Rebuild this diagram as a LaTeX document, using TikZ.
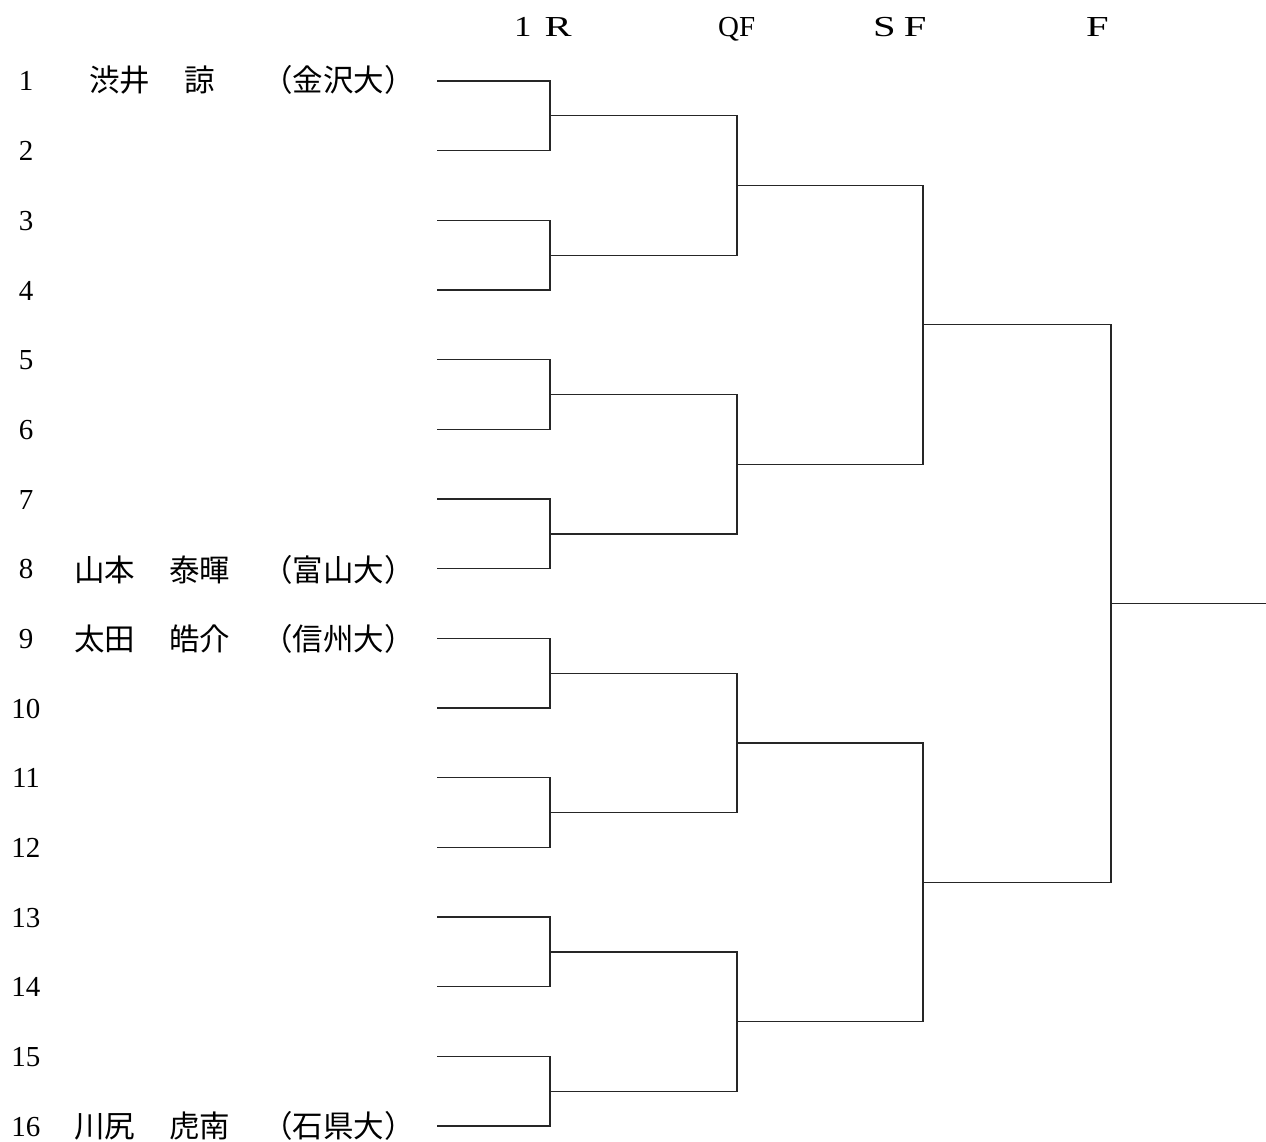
\documentclass[tikz,border=0pt]{standalone}
\usepackage{graphicx}
\usepackage{fontspec}
\setmainfont{Liberation Serif}
\newfontfamily\jp{Noto Sans CJK JP}
\newcommand{\widelet}[1]{\scalebox{1.4}[1]{#1}}
\begin{document}
\begin{tikzpicture}[x=1pt,y=-1pt,
  br/.style={line width=1.3pt,draw=black!85},
  num/.style={font=\fontsize{29}{30}\selectfont,anchor=base,inner sep=0pt},
  jt/.style={font=\jp\fontsize{30.5}{31}\selectfont,anchor=base west,inner sep=0pt},
  hd/.style={font=\fontsize{29}{30}\selectfont,anchor=base west,inner sep=0pt}]
\useasboundingbox (0,0) rectangle (1266,1142);
% rows
\foreach \i in {1,...,16}{
  \pgfmathsetmacro{\yy}{81+(\i-1)*69.67}
  \coordinate (p\i) at (437,\yy);
  \node[num] (n\i) at (26,\yy+10) {\i};
}
% headers
\node[hd] (h1) at (514,37) {\scalebox{1.2}[1]{1}\hspace{13pt}\widelet{R}};
\node[hd] (h2) at (718,37) {QF};
\node[hd] (h3) at (873,37) {\widelet{S}\hspace{8pt}\widelet{F}};
\node[hd] (h4) at (1086,37) {\widelet{F}};
% names
\node[jt] (a1) at (89,92) {渋井};
\node[jt] (b1) at (184,92) {諒};
\node[jt] (c1) at (262,92) {（金沢大）};
\node[jt] (a8) at (74,581) {山本};
\node[jt] (b8) at (169,581) {泰暉};
\node[jt] (c8) at (262,581) {（富山大）};
\node[jt] (a9) at (74,650) {太田};
\node[jt] (b9) at (169,650) {皓介};
\node[jt] (c9) at (262,650) {（信州大）};
\node[jt] (a16) at (74,1137) {川尻};
\node[jt] (b16) at (169,1137) {虎南};
\node[jt] (c16) at (262,1137) {（石県大）};
% round 1
\foreach \k in {1,...,8}{
  \pgfmathtruncatemacro{\a}{2*\k-1}
  \pgfmathtruncatemacro{\b}{2*\k}
  \pgfmathsetmacro{\ym}{81+(2*\k-1.5)*69.67}
  \coordinate (wa\k) at (550,\ym);
  \draw[br] (p\a) -| (wa\k);
  \draw[br] (p\b) -| (wa\k);
}
% QF
\foreach \k in {1,...,4}{
  \pgfmathtruncatemacro{\a}{2*\k-1}
  \pgfmathtruncatemacro{\b}{2*\k}
  \pgfmathsetmacro{\ym}{81+(4*\k-2.5)*69.67}
  \coordinate (wb\k) at (737,\ym);
  \draw[br] (wa\a) -| (wb\k);
  \draw[br] (wa\b) -| (wb\k);
}
% SF
\foreach \k in {1,2}{
  \pgfmathtruncatemacro{\a}{2*\k-1}
  \pgfmathtruncatemacro{\b}{2*\k}
  \pgfmathsetmacro{\ym}{81+(8*\k-4.5)*69.67}
  \coordinate (wc\k) at (923,\ym);
  \draw[br] (wb\a) -| (wc\k);
  \draw[br] (wb\b) -| (wc\k);
}
% Final
\pgfmathsetmacro{\yf}{81+7.5*69.67}
\coordinate (wd) at (1111,\yf);
\coordinate (win) at (1266,\yf);
\draw[br] (wc1) -| (wd);
\draw[br] (wc2) -| (wd);
\draw[br] (wd) -- (win);
\end{tikzpicture}
\end{document}
